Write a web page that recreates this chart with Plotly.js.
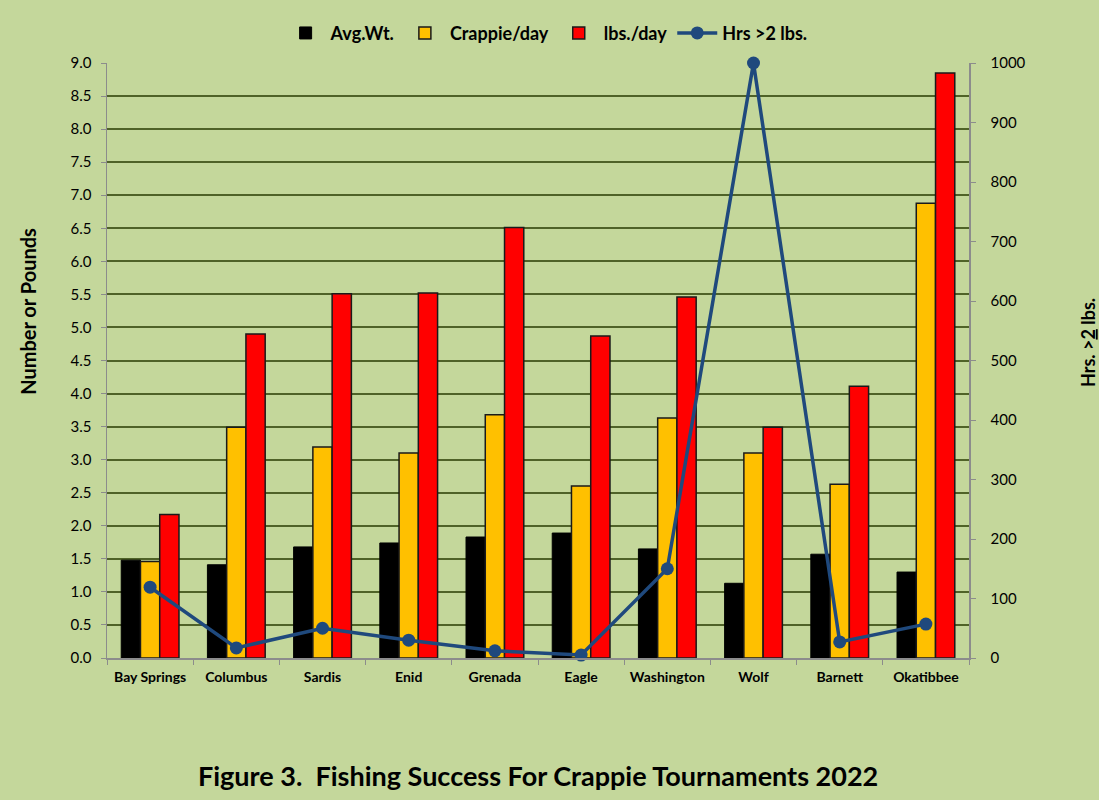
<!DOCTYPE html>
<html>
<head>
<meta charset="utf-8">
<script src="https://cdn.plot.ly/plotly-3.0.1.min.js"></script>
<style>html,body{margin:0;padding:0;background:#c4d79b;}#chart{width:1099px;height:800px;}</style>
</head>
<body>
<div id="chart"></div>
<script>
const lakes = ["Bay Springs","Columbus","Sardis","Enid","Grenada","Eagle","Washington","Wolf","Barnett","Okatibbee"];
const avgWt = [1.48,1.41,1.68,1.74,1.83,1.89,1.65,1.13,1.57,1.30];
const crappiePerDay = [1.46,3.49,3.19,3.10,3.68,2.60,3.63,3.10,2.63,6.88];
const lbsPerDay = [2.17,4.90,5.51,5.52,6.51,4.87,5.46,3.49,4.11,8.85];
const hrsOver2 = [119,17,50,30,12,5,150,1000,27,57];

const FONT = "Lato, 'Open Sans', sans-serif";
const bg = "#c4d79b";

const traces = [
  {type:"bar", name:"Avg.Wt.", x:lakes, y:avgWt, marker:{color:"#000000", line:{color:"#000000", width:1}}},
  {type:"bar", name:"Crappie/day", x:lakes, y:crappiePerDay, marker:{color:"#ffc000", line:{color:"#1a1a1a", width:1.5}}},
  {type:"bar", name:"lbs./day", x:lakes, y:lbsPerDay, marker:{color:"#ff0000", line:{color:"#1a1a1a", width:1.5}}},
  {type:"scatter", mode:"lines+markers", name:"Hrs >2 lbs.", x:lakes, y:hrsOver2, yaxis:"y2", cliponaxis:false,
   line:{color:"#1f497d", width:3.5}, marker:{color:"#1f497d", size:13}}
];

const layout = {
  width:1099, height:800,
  paper_bgcolor:bg, plot_bgcolor:bg,
  margin:{l:107, r:130, t:63, b:142},
  barmode:"group", bargap:0.33, bargroupgap:0,
  font:{family:FONT, color:"#000"},
  showlegend:true,
  legend:{orientation:"h", x:0.51, xanchor:"center", y:1.05, yanchor:"middle",
          font:{family:FONT, size:18, color:"#000", weight:"bold"}, bgcolor:"rgba(0,0,0,0)",
          traceorder:"normal", itemwidth:40},
  xaxis:{type:"category", range:[-0.5,9.5], tickson:"boundaries", ticks:"outside", ticklen:5, tickcolor:"#8c8c8c",
         showline:true, linecolor:"#8c8c8c", linewidth:1.5, showgrid:false, ticklabelstandoff:6,
         tickfont:{family:FONT, size:14, color:"#000", weight:"bold"}},
  yaxis:{range:[0,9], dtick:0.5, tickformat:".1f", ticks:"outside", ticklen:5, tickcolor:"#8c8c8c",
         showline:true, linecolor:"#8c8c8c", linewidth:1.5, ticklabelstandoff:6,
         showgrid:true, gridcolor:"#4f6228", gridwidth:2, zeroline:false,
         tickfont:{family:FONT, size:15, color:"#000"}},
  yaxis2:{range:[0,1000], dtick:100, overlaying:"y", side:"right", ticks:"outside", ticklen:5, tickcolor:"#8c8c8c",
          showline:true, linecolor:"#8c8c8c", linewidth:1.5, showgrid:false, zeroline:false, ticklabelstandoff:12,
          tickfont:{family:FONT, size:15, color:"#000"}},
  annotations:[
    {text:"<b>Figure 3.  Fishing Success For Crappie Tournaments 2022</b>", xref:"paper", yref:"paper",
     x:0.5, y:-0.197, xanchor:"center", yanchor:"middle", showarrow:false,
     font:{family:FONT, size:27, color:"#000"}},
    {text:"<b>Number or Pounds</b>", xref:"paper", yref:"paper", x:-0.092, y:0.583,
     xanchor:"center", yanchor:"middle", textangle:-90, showarrow:false,
     font:{family:FONT, size:20, color:"#000"}},
    {text:"<b>Hrs. ><span style='text-decoration:underline'>2</span> lbs.</b>", xref:"paper", yref:"paper", x:1.138, y:0.531,
     xanchor:"center", yanchor:"middle", textangle:-90, showarrow:false,
     font:{family:FONT, size:18, color:"#000"}}
  ]
};

Plotly.newPlot("chart", traces, layout, {displayModeBar:false, staticPlot:true});
</script>
</body>
</html>
